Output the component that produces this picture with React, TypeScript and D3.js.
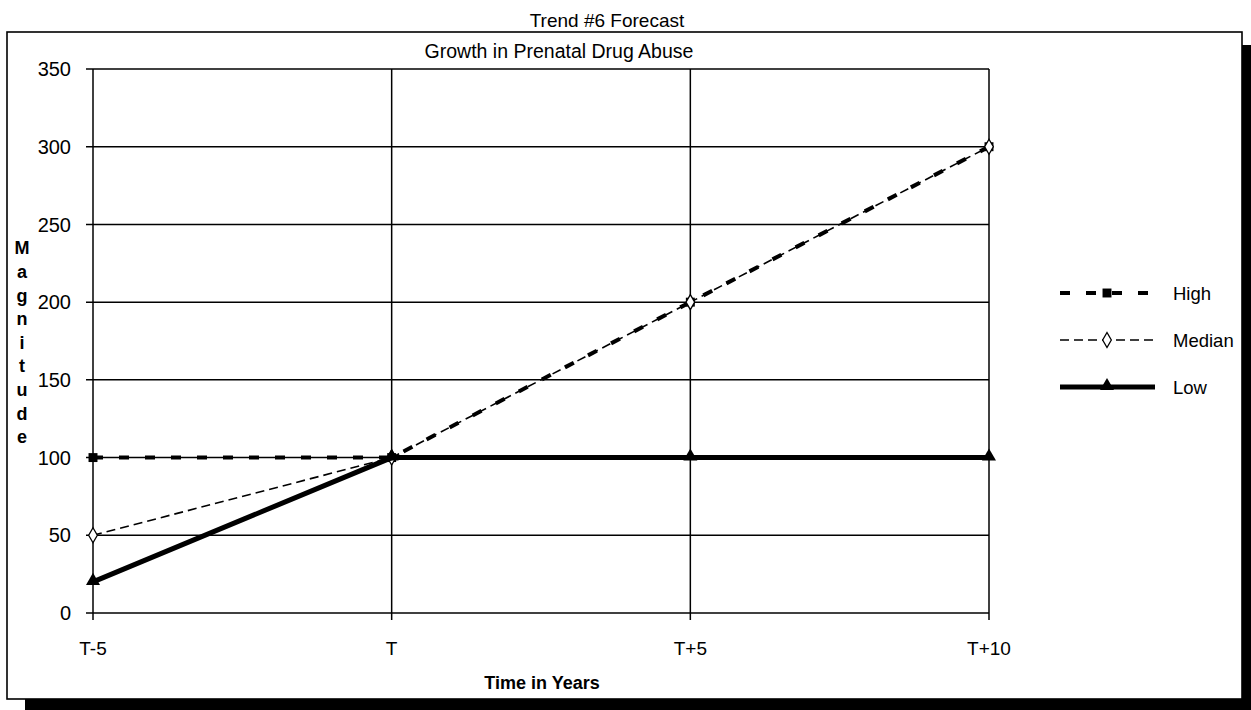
import React from "react";
import * as d3 from "d3";

const categories = ["T-5", "T", "T+5", "T+10"];
const highValues = [100, 100, 200, 300];
const medianValues = [50, 100, 200, 300];
const lowValues = [20, 100, 100, 100];
const yTicks = [0, 50, 100, 150, 200, 250, 300, 350];
const yTitleLetters = ["M", "a", "g", "n", "i", "t", "u", "d", "e"];

const W = 1251;
const H = 710;
const FONT = "'Liberation Sans', Arial, sans-serif";

export default function App() {
  const x = d3.scalePoint<string>().domain(categories).range([93, 989]);
  const y = d3.scaleLinear().domain([0, 350]).range([613, 69]);
  const line = d3
    .line<number>()
    .x((_, i) => x(categories[i]) as number)
    .y((d) => y(d));

  const sq = d3.symbol().type(d3.symbolSquare).size(80)() as string;
  const diamond = d3.symbol().type(d3.symbolDiamond).size(65)() as string;
  const tri = d3.symbol().type(d3.symbolTriangle).size(85)() as string;

  const legendY = [293, 340, 387];
  const lx0 = 1060;
  const lx1 = 1155;
  const lmid = 1107;

  return (
    <svg
      width={W}
      height={H}
      style={{ position: "absolute", left: 0, top: 0, background: "#fff" }}
      fontFamily={FONT}
    >
      <rect x={0} y={0} width={W} height={H} fill="#fff" />
      {/* shadow */}
      <rect x={1242} y={45} width={9} height={665} fill="#000" />
      <rect x={25} y={699} width={1226} height={11} fill="#000" />
      {/* outer frame */}
      <rect x={7} y={32} width={1235} height={667} fill="#fff" stroke="#000" strokeWidth={1.6} />

      <text x={607} y={27} textAnchor="middle" fontSize={19} fill="#000">
        Trend #6 Forecast
      </text>
      <text x={559} y={58} textAnchor="middle" fontSize={19.5} fill="#000">
        Growth in Prenatal Drug Abuse
      </text>

      {/* horizontal gridlines */}
      {yTicks.map((t) => (
        <g key={"h" + t}>
          <line x1={86} x2={989} y1={y(t)} y2={y(t)} stroke="#000" strokeWidth={1.5} />
          <text x={71} y={y(t)} dy="0.36em" textAnchor="end" fontSize={20} fill="#000">
            {t}
          </text>
        </g>
      ))}
      {/* vertical gridlines */}
      {categories.map((c) => (
        <g key={"v" + c}>
          <line x1={x(c)} x2={x(c)} y1={y(350)} y2={620} stroke="#000" strokeWidth={1.5} />
          <text x={x(c)} y={655} textAnchor="middle" fontSize={19} fill="#000">
            {c}
          </text>
        </g>
      ))}

      {/* axis titles */}
      <text x={542} y={689} textAnchor="middle" fontSize={18} fontWeight="bold" fill="#000">
        Time in Years
      </text>
      {yTitleLetters.map((l, i) => (
        <text
          key={"yl" + i}
          x={22}
          y={248 + i * 23.6}
          dy="0.36em"
          textAnchor="middle"
          fontSize={18}
          fontWeight="bold"
          fill="#000"
        >
          {l}
        </text>
      ))}

      {/* series: High */}
      <path d={line(highValues) as string} fill="none" stroke="#000" strokeWidth={4} strokeDasharray="10,16" />
      {highValues.map((v, i) => (
        <path key={"hm" + i} d={sq} transform={`translate(${x(categories[i])},${y(v)})`} fill="#000" />
      ))}
      {/* Median */}
      <path d={line(medianValues) as string} fill="none" stroke="#000" strokeWidth={1.6} strokeDasharray="9,5" />
      {medianValues.map((v, i) => (
        <path
          key={"mm" + i}
          d={diamond}
          transform={`translate(${x(categories[i])},${y(v)})`}
          fill="#fff"
          stroke="#000"
          strokeWidth={1.3}
        />
      ))}
      {/* Low */}
      <path d={line(lowValues) as string} fill="none" stroke="#000" strokeWidth={5} />
      {lowValues.map((v, i) => (
        <path key={"lm" + i} d={tri} transform={`translate(${x(categories[i])},${y(v) - 1})`} fill="#000" />
      ))}

      {/* legend */}
      <g>
        <line x1={lx0} x2={lx1} y1={legendY[0]} y2={legendY[0]} stroke="#000" strokeWidth={4} strokeDasharray="10,16" />
        <path d={sq} transform={`translate(${lmid},${legendY[0]})`} fill="#000" />
        <text x={1173} y={legendY[0]} dy="0.36em" fontSize={18.5} fill="#000">High</text>

        <line x1={lx0} x2={lx1} y1={legendY[1]} y2={legendY[1]} stroke="#000" strokeWidth={1.6} strokeDasharray="9,5" />
        <path d={diamond} transform={`translate(${lmid},${legendY[1]})`} fill="#fff" stroke="#000" strokeWidth={1.3} />
        <text x={1173} y={legendY[1]} dy="0.36em" fontSize={18.5} fill="#000">Median</text>

        <line x1={lx0} x2={lx1} y1={legendY[2]} y2={legendY[2]} stroke="#000" strokeWidth={5} />
        <path d={tri} transform={`translate(${lmid},${legendY[2] - 1})`} fill="#000" />
        <text x={1173} y={legendY[2]} dy="0.36em" fontSize={18.5} fill="#000">Low</text>
      </g>
    </svg>
  );
}
